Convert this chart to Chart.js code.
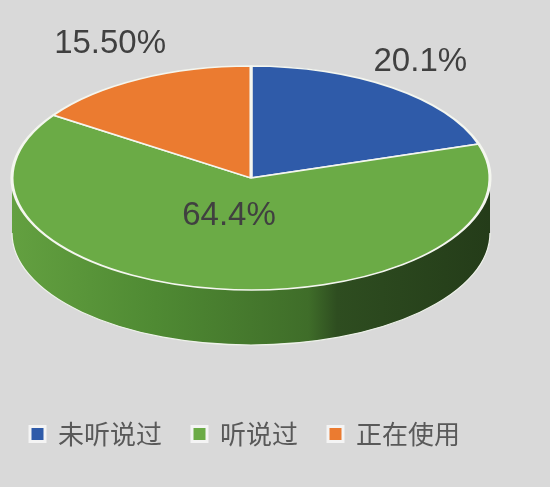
<!DOCTYPE html>
<html>
<head>
<meta charset="utf-8">
<script src="https://cdn.jsdelivr.net/npm/chart.js@4"></script>
<style>
    html, body { margin: 0; padding: 0; background: #d9d9d9; }
    #wrap { width: 550px; height: 487px; }
</style>
</head>
<body>
<div id="wrap"><canvas id="pieChart"></canvas></div>
<script>
const categories = ['未听说过', '听说过', '正在使用'];
const shares = [20.1, 64.4, 15.5];
const shareLabels = ['20.1%', '64.4%', '15.50%'];
const sliceColors = ['#2f5ba9', '#6bab46', '#eb7b30'];

// where the flattened pie sits on the page
const CX = 251, CY = 178, RX = 239, RY = 112, DEPTH = 55;

// Side wall + squash the flat pie into an ellipse
const tiltPlugin = {
    id: 'tilt',
    beforeDatasetsDraw(chart) {
        const ctx = chart.ctx;
        const meta = chart.getDatasetMeta(0);
        const first = meta.data[0];

        const grad = ctx.createLinearGradient(CX - RX, 0, CX + RX, 0);
        grad.addColorStop(0, '#63a040');
        grad.addColorStop(0.3, '#4f8a33');
        grad.addColorStop(0.62, '#3f6d29');
        grad.addColorStop(0.68, '#2e4d20');
        grad.addColorStop(1, '#243c19');

        meta.data.forEach((arc, i) => {
            [[0, Math.PI], [2 * Math.PI, 3 * Math.PI]].forEach(([lo, hi]) => {
                const s = Math.max(arc.startAngle, lo);
                const e = Math.min(arc.endAngle, hi);
                if (e <= s) return;
                ctx.beginPath();
                ctx.ellipse(CX, CY, RX, RY, 0, s, e);
                ctx.ellipse(CX, CY + DEPTH, RX, RY, 0, e, s, true);
                ctx.closePath();
                ctx.fillStyle = i === 1 ? grad : sliceColors[i];
                ctx.fill();
                ctx.beginPath();
                ctx.ellipse(CX, CY + DEPTH, RX, RY, 0, s, e);
                ctx.strokeStyle = '#eef2ea';
                ctx.lineWidth = 1.2;
                ctx.stroke();
            });
        });

        const r = first.outerRadius;
        ctx.save();
        ctx.translate(CX, CY);
        ctx.scale(RX / r, RY / r);
        ctx.translate(-first.x, -first.y);
    },
    afterDatasetsDraw(chart) {
        chart.ctx.restore();
    },
    afterDraw(chart) {
        const ctx = chart.ctx;
        const meta = chart.getDatasetMeta(0);
        // label placement factors (x, y) along each slice's middle angle
        const factors = [[1.2, 1.28], [0.64, 0.34], [1.26, 1.35]];
        ctx.save();
        ctx.font = '33px "Liberation Sans", Arial, sans-serif';
        ctx.fillStyle = '#404040';
        ctx.textAlign = 'center';
        ctx.textBaseline = 'middle';
        meta.data.forEach((arc, i) => {
            const mid = (arc.startAngle + arc.endAngle) / 2;
            const x = CX + factors[i][0] * RX * Math.cos(mid);
            const y = CY + factors[i][1] * RY * Math.sin(mid);
            ctx.fillText(shareLabels[i], x, y);
        });
        ctx.restore();
    }
};

const ctx = document.getElementById('pieChart').getContext('2d');
new Chart(ctx, {
    type: 'pie',
    data: {
        labels: categories,
        datasets: [{
            data: shares,
            backgroundColor: sliceColors,
            borderColor: '#f4f6ef',
            borderWidth: 2.5
        }]
    },
    options: {
        responsive: true,
        maintainAspectRatio: false,
        animation: false,
        layout: { padding: { left: 0, right: 0, top: 0, bottom: 30 } },
        plugins: {
            legend: {
                position: 'bottom',
                align: 'start',
                labels: {
                    boxWidth: 15,
                    boxHeight: 15,
                    padding: 30,
                    color: '#595959',
                    font: { family: '"Noto Sans CJK SC", sans-serif', size: 26 },
                    generateLabels(chart) {
                        return categories.map((c, i) => ({
                            text: c,
                            fillStyle: sliceColors[i],
                            strokeStyle: '#f4f4f4',
                            lineWidth: 3,
                            fontColor: '#595959',
                            index: i
                        }));
                    }
                }
            },
            tooltip: { enabled: false }
        }
    },
    plugins: [tiltPlugin]
});
</script>
</body>
</html>
